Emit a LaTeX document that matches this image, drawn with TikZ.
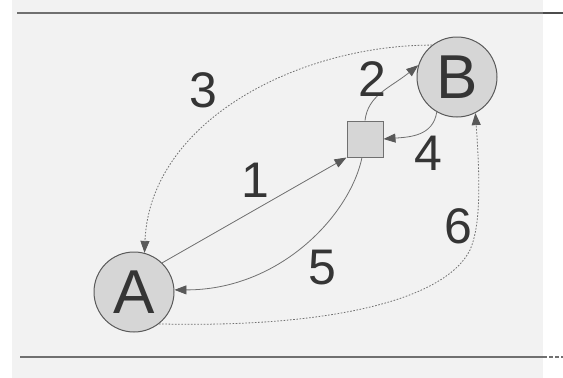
\documentclass[tikz,border=0pt]{standalone}
\usepackage{fontspec}
\setmainfont{Liberation Sans}
\usetikzlibrary{arrows.meta}
\definecolor{bgc}{HTML}{F2F2F2}
\definecolor{linec}{HTML}{707070}
\definecolor{fillc}{HTML}{D6D6D6}
\definecolor{textc}{HTML}{353535}
\tikzset{
  state/.style={circle, draw=linec!80!black, line width=1pt, fill=fillc, minimum size=80pt, inner sep=0pt, text=textc, font=\fontsize{62}{62}\selectfont},
  box/.style={rectangle, draw=linec, line width=1pt, fill=fillc, minimum size=36pt, inner sep=0pt},
  num/.style={text=textc, font=\fontsize{50}{50}\selectfont, inner sep=0pt},
  conn/.style={draw=linec, line width=0.8pt, -{Triangle[length=12pt,width=9pt,color=black!65,fill=black!65]}},
  dotconn/.style={conn, dash pattern=on 1.6pt off 1.6pt},
  rule/.style={draw=linec, line width=1.1pt}
}
\begin{document}
\begin{tikzpicture}[x=1pt,y=-1pt]
\useasboundingbox (0,0) rectangle (563,378);
\fill[bgc] (12,0) rectangle (543,378);
\coordinate (t1) at (17,13);
\coordinate (t2) at (543,13);
\coordinate (t3) at (563,13);
\coordinate (b1) at (20,357);
\coordinate (b2) at (543,357);
\coordinate (b3) at (563,357);
\draw[rule] (t1) -- (t2);
\draw[rule, draw=black!70] (t2) -- (t3);
\draw[rule] (b1) -- (b2);
\draw[rule, dash pattern=on 4pt off 2pt] (b2) -- (b3);

\node[state] (A) at (134,292) {A};
\node[state] (B) at (457,77) {B};
\node[box] (sq) at (365,139) {};

% 1
\draw[conn] (A.46) -- (sq.south west);
% 2
\draw[conn] (sq.north) .. controls (368,95) and (390,88) .. (B.163);
% 4
\draw[conn] (B.-120) .. controls (433,136) and (410,137) .. (sq.east);
% 5
\draw[conn] ([xshift=-3pt]sq.south) .. controls (350,215) and (280,290) .. (A.3);
% 3
\draw[dotconn] (B.128) .. controls (300,45) and (150,120) .. (A.75);
% 6
\draw[dotconn] (A.-52) .. controls (330,328) and (445,300) .. (470,250) .. controls (481,225) and (480,180) .. (B.-63);

\node[num] (n1) at (255,180) {1};
\node[num] (n2) at (372,79) {2};
\node[num] (n3) at (203,90) {3};
\node[num] (n4) at (428,153) {4};
\node[num] (n5) at (322,268) {5};
\node[num] (n6) at (458,226) {6};
\end{tikzpicture}
\end{document}
